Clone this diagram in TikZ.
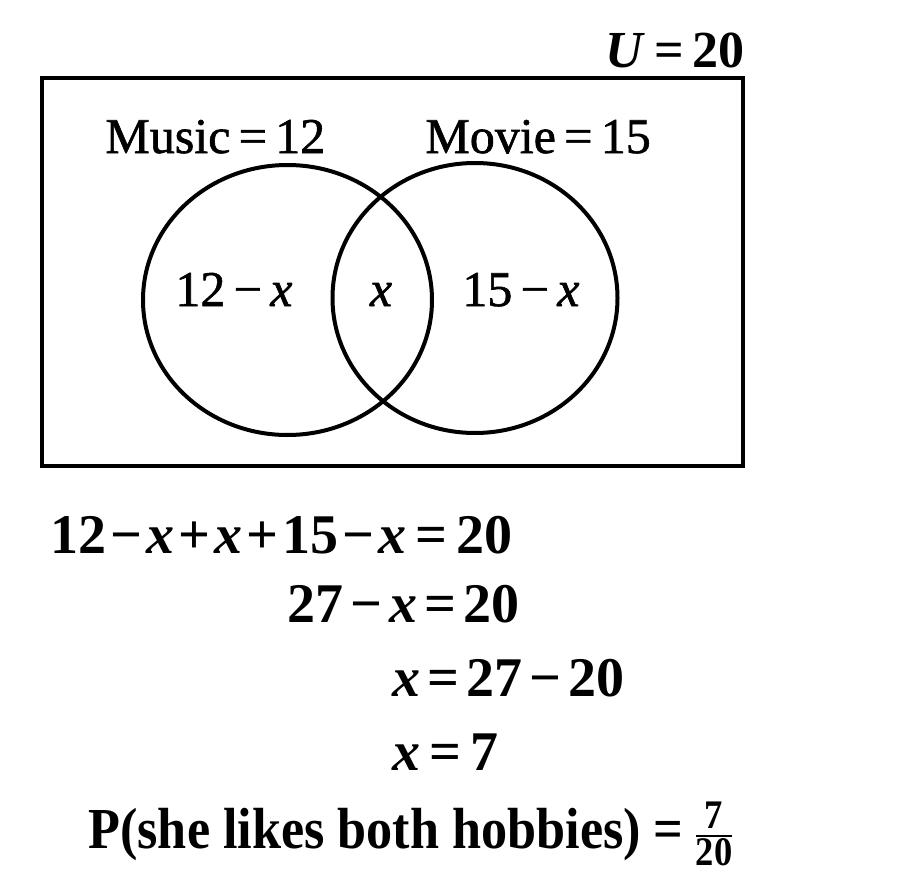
\documentclass[tikz,border=0pt]{standalone}
\usepackage{amsmath}
\usepackage{fontspec}
\setmainfont{Liberation Serif}
\newfontfamily\narrowserif[FakeStretch=0.9]{Liberation Serif}
\newfontfamily\inkserif[FakeBold=1.2]{Liberation Serif}
\usetikzlibrary{positioning, shapes.geometric}
\newcommand\ix{\textit{x}}
\newcommand\op[1]{\kern2pt#1\kern2pt}
\newcommand\wop[1]{\kern3.5pt#1\kern3.5pt}

\begin{document}
\begin{tikzpicture}[x=0.5pt, y=-0.5pt,
  setring/.style={ellipse, draw, line width=2pt, inner sep=0pt, minimum height=135pt},
  lbl/.style={font=\fontsize{25}{30}\selectfont\inkserif, inner sep=0pt, anchor=base west},
  eqn/.style={font=\fontsize{28}{32}\selectfont\bfseries, inner sep=0pt, anchor=base west},
]
  \useasboundingbox (0,0) rectangle (917,878);

  % universal set and the two sets
  \node[draw, line width=2.2pt, minimum width=350.5pt, minimum height=194pt, inner sep=0pt] (univ) at (392.5,272) {};
  \node[setring, minimum width=144.5pt] (music) at (287.5,300) {};
  \node[setring, minimum width=142.5pt] (movie) at (475,298) {};

  \node[lbl, font=\fontsize{26}{30}\selectfont\bfseries, anchor=base east] (utot) at (745,68) {\textit{U}\,=\,20};
  \node[lbl] (mtot) at (105,153) {Music\,=\,12};
  \node[lbl] (vtot) at (425,153) {Movie\,=\,15};

  % regions
  \node[lbl] (onlym) at (175,306) {12\,−\,\ix};
  \node[lbl, anchor=base] (both) at (381,306) {\ix};
  \node[lbl] (onlyv) at (462,306) {15\,−\,\ix};

  % working
  \node[eqn] (eq1) at (50,553) {12\op{−}\ix\op{+}\ix\op{+}15\op{−}\ix\,=\,20};
  \node[eqn] (eq2) at (287,622) {27\wop{−}\ix\wop{=}20};
  \node[eqn] (eq3) at (392,696) {\ix\wop{=}27\wop{−}20};
  \node[eqn] (eq4) at (392,770) {\ix\,=\,7};
  \node[eqn, font=\fontsize{29}{32}\selectfont\bfseries\narrowserif] (prob) at (88,848)
    {P(she likes both hobbies)\ =\,$\frac{\text{\bfseries 7}}{\text{\bfseries 20}}$};
\end{tikzpicture}
\end{document}
